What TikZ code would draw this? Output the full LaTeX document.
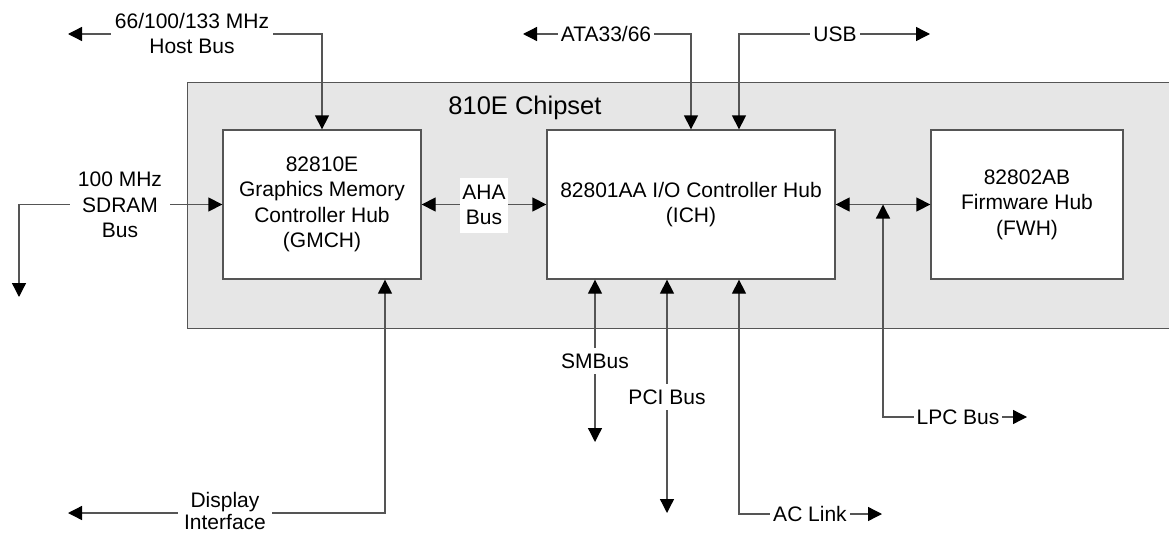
\documentclass[tikz,border=0pt]{standalone}
\usepackage{fontspec}
\setmainfont{Liberation Sans}
\usetikzlibrary{arrows.meta,calc}
\definecolor{lineg}{HTML}{555555}
\definecolor{chipfill}{HTML}{E6E6E6}
\begin{document}
\begin{tikzpicture}[x=1pt,y=-1pt,
  >={Triangle[length=14pt,width=14pt,color=black]},
  every node/.style={font=\fontsize{21}{25.5}\selectfont, align=center, text=black},
  chip/.style={draw=lineg, line width=1.3pt, fill=white, minimum width=#1, minimum height=149pt, inner sep=0pt},
  bus/.style={draw=lineg, line width=1.3pt},
  lab/.style={fill=white, inner xsep=4pt, inner ysep=3pt},
  title/.style={font=\fontsize{25.5}{30}\selectfont}]
\useasboundingbox (0,0) rectangle (1169,535);
% chipset area
\node[draw=lineg, line width=1.3pt, fill=chipfill, minimum width=1000pt, minimum height=246pt, inner sep=0pt, anchor=north west] (chipset) at (187,82) {};
\node[title] (chiplab) at (525,108) {810E Chipset};
% chips
\node[chip=198pt] (gmch) at (322,204.5) {82810E\\Graphics Memory\\Controller Hub\\(GMCH)};
\node[chip=288pt] (ich) at (691,204.5) {82801AA I/O Controller Hub\\(ICH)};
\node[chip=192pt] (fwh) at (1027,204.5) {82802AB\\Firmware Hub\\(FWH)};
% free ends
\coordinate (hostL) at (68,34);
\coordinate (sdEnd) at (19,297);
\coordinate (ataL) at (523,34);
\coordinate (usbR) at (930,34);
\coordinate (smEnd) at (595,442);
\coordinate (pciEnd) at (667,513);
\coordinate (acR) at (882,514);
\coordinate (lpcT) at ($(ich.east)!0.5!(fwh.west)$);
\coordinate (lpcR) at (1027,417);
\coordinate (dispL) at (68,513);
% connectors
\draw[bus,<->] (hostL) -- (gmch.north |- hostL) -- (gmch.north);
\draw[bus,<->] (gmch.west) -- (gmch.west -| sdEnd) -- (sdEnd);
\draw[bus,<->] (gmch.east) -- (ich.west);
\draw[bus,<->] (ataL) -- (ich.north |- ataL) -- (ich.north);
\draw[bus,<->] ([xshift=48pt]ich.north) -- ([xshift=48pt]ich.north |- usbR) -- (usbR);
\draw[bus,<->] ([xshift=-96pt]ich.south) -- (smEnd);
\draw[bus,<->] ([xshift=-24pt]ich.south) -- (pciEnd);
\draw[bus,<->] ([xshift=48pt]ich.south) -- ([xshift=48pt]ich.south |- acR) -- (acR);
\draw[bus,<->] (ich.east) -- (fwh.west);
\draw[bus,<->] (lpcT) -- (lpcT |- lpcR) -- (lpcR);
\draw[bus,<->] ([xshift=63pt]gmch.south) -- ([xshift=63pt]gmch.south |- dispL) -- (dispL);
% labels
\node[lab, inner xsep=4pt] (hostlab) at (192,33.5) {66/100/133 MHz\\Host Bus};
\node[lab, inner xsep=8pt] (sdlab) at (120,205) {100 MHz\\SDRAM\\Bus};
\node[lab, inner xsep=2.5pt, minimum height=55pt] (ahalab) at (484,205) {AHA\\Bus};
\node[lab, inner xsep=3pt] (atalab) at (606,34) {ATA33/66};
\node[lab, inner xsep=3pt] (usblab) at (835,34) {USB};
\node[lab, inner ysep=6pt] (smlab) at (595,361) {SMBus};
\node[lab, inner ysep=6pt] (pcilab) at (667,397) {PCI Bus};
\node[lab, inner xsep=3pt] (aclab) at (810,514) {AC Link};
\node[lab, inner xsep=3pt] (lpclab) at (958,417) {LPC Bus};
\node[lab, inner xsep=6pt, font=\fontsize{21}{22}\selectfont] (displab) at (225,511) {Display\\Interface};
\end{tikzpicture}
\end{document}
